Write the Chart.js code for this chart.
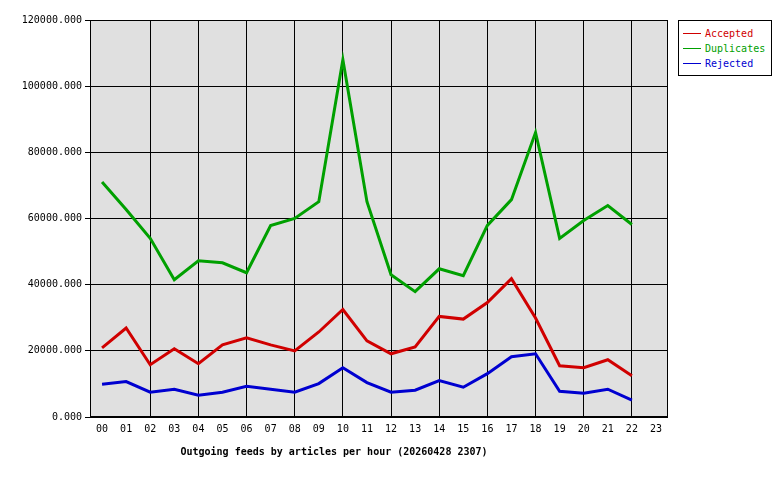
<!DOCTYPE html><html><head><script src="https://cdn.jsdelivr.net/npm/chart.js@4"></script>
<style>body{margin:0;background:#fff}#w{position:relative;width:780px;height:480px}
#lg{position:absolute;left:678px;top:20px;width:92px;height:54px;border:1px solid #000;background:#fff;font:10px "DejaVu Sans Mono";}
#lg div{position:relative;height:15px;line-height:15px;padding-left:26px;margin-top:0px}
#lg span{position:absolute;left:4px;top:7px;width:18px;height:1px}
</style></head><body><div id="w"><canvas id="c" width="780" height="480"></canvas>
<div id="lg"><div style="color:#d00000;margin-top:5px"><span style="background:#d00000"></span>Accepted</div><div style="color:#00a000"><span style="background:#00a000"></span>Duplicates</div><div style="color:#0000d0"><span style="background:#0000d0"></span>Rejected</div></div></div>
<script>
const hours=["00","01","02","03","04","05","06","07","08","09","10","11","12","13","14","15","16","17","18","19","20","21","22","23"];
const accepted=[20900,26900,15800,20600,16100,21800,23900,21800,20000,25700,32500,23000,19100,21200,30400,29600,34600,41800,29900,15500,14900,17300,12500,null];
const duplicates=[71000,62700,54000,41500,47200,46600,43600,57900,60000,65100,108000,65100,43000,37900,44800,42700,57900,65700,86000,54000,59400,63900,58200,null];
const rejected=[9900,10700,7500,8400,6600,7500,9300,8400,7500,10100,14900,10400,7500,8100,11000,9000,13100,18200,19100,7800,7200,8400,5100,null];
const yTicks=[0,20000,40000,60000,80000,100000,120000];
const F='"DejaVu Sans Mono"';
const bg={id:'bg',beforeDraw(c){const a=c.chartArea,x=c.ctx;x.save();x.fillStyle='#e0e0e0';x.fillRect(a.left,a.top,a.right-a.left,a.bottom-a.top);x.restore();},
afterDatasetsDraw(c){const a=c.chartArea,x=c.ctx;x.save();x.strokeStyle='#000';x.lineWidth=1;x.strokeRect(a.left+.5,a.top+.5,a.right-a.left-1,a.bottom-a.top-1);x.restore();}};
const ds=(l,d,col)=>({label:l,data:d,borderColor:col,borderWidth:3,pointRadius:0,tension:0,fill:false});
new Chart(document.getElementById('c'),{type:'line',data:{labels:hours,datasets:[ds('Accepted',accepted,'#d00000'),ds('Duplicates',duplicates,'#00a000'),ds('Rejected',rejected,'#0000d0')]},
options:{responsive:false,animation:false,layout:{padding:{left:0,right:112,top:20,bottom:22}},
plugins:{legend:{display:false},tooltip:{enabled:false},title:{display:true,position:'bottom',text:'Outgoing feeds by articles per hour (20260428 2307)',color:'#000',font:{family:F,size:10,weight:'bold'},padding:{top:5,bottom:0}}},
scales:{x:{offset:true,grid:{offset:false,color:c=>(c.index>0&&c.index%2==0)?'#000':'rgba(0,0,0,0)',drawTicks:false},border:{display:false},ticks:{color:'#000',font:{family:F,size:10},padding:6,maxRotation:0,autoSkip:false}},
y:{min:0,max:120000,afterBuildTicks:s=>{s.ticks=yTicks.map(v=>({value:v}))},afterFit:s=>{s.width=90},grid:{color:'#000',tickLength:5,tickColor:'#000'},border:{display:false},ticks:{color:'#000',font:{family:F,size:10},padding:3,callback:v=>v+'.000'}}}},plugins:[bg]});
</script></body></html>
